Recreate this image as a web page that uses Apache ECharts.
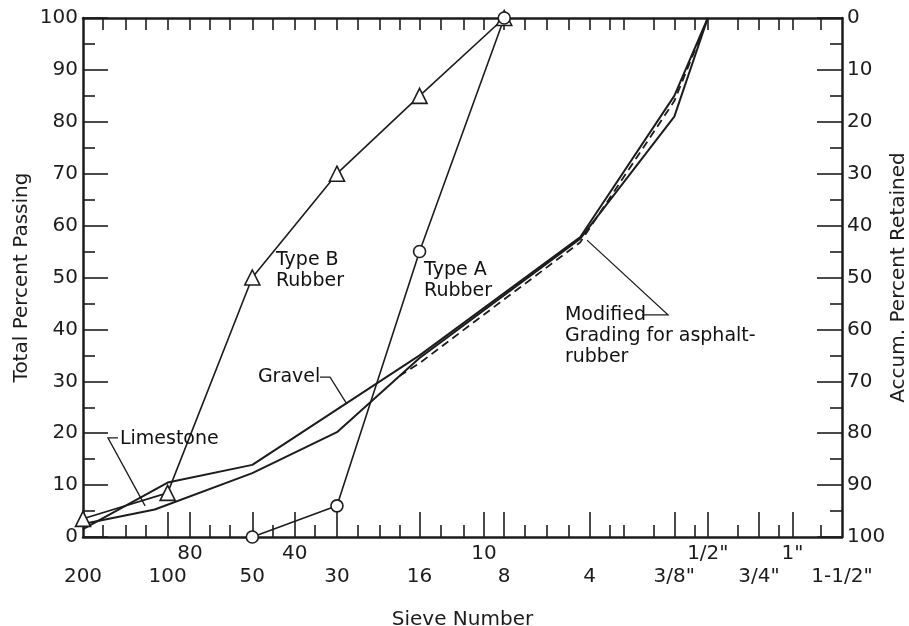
<!DOCTYPE html>
<html><head><meta charset="utf-8">
<script src="https://cdn.jsdelivr.net/npm/echarts@6/dist/echarts.min.js"></script>
<style>html,body{margin:0;padding:0;background:#fff}#c{width:909px;height:626px}</style>
</head><body><div id="c"></div>
<script>
// ---- axis data (sieve openings in mm) ----
const sieveUpperSizes = [0.18, 0.425, 2.0, 12.5, 25];
const sieveUpperLabels = ['80', '40', '10', '1/2"', '1"'];
const sieveLowerSizes = [0.075, 0.15, 0.3, 0.6, 1.18, 2.36, 4.75, 9.5, 19, 37.5];
const sieveLowerLabels = ['200', '100', '50', '30', '16', '8', '4', '3/8"', '3/4"', '1-1/2"'];
const longTickSizes = [0.15, 0.18, 0.3, 0.425, 0.6, 1.18, 2.0, 2.36, 4.75, 9.5, 12.5, 19, 25];
const shortTickSizes = [0.088, 0.106, 0.125, 0.212, 0.25, 0.355, 0.5, 0.71, 0.85, 1.0, 1.4, 1.7, 2.8, 3.35, 4.0, 5.6, 6.3, 8.0, 11.2, 16, 22.4, 31.5];
const xMinSize = 0.075, xMaxSize = 37.5;

// ---- series data ----
const gravelSize = [0.075, 0.15, 0.3, 1.18, 4.4, 9.5, 12.5];
const gravelPass = [1.5, 10.5, 13.9, 35, 57.8, 85, 100];
const limestoneSize = [0.075, 0.135, 0.3, 0.6, 1.18, 4.4, 9.5, 12.5];
const limestonePass = [2.5, 5.3, 12.3, 20.2, 34.5, 57.5, 81, 100];
const modifiedSize = [1.0, 1.18, 2.36, 4.4, 9.5, 12.5];
const modifiedPass = [31.0, 33.5, 45.8, 56.8, 84, 100];
const typeBSize = [0.075, 0.15, 0.3, 0.6, 1.18, 2.36];
const typeBPass = [3.5, 8.5, 50, 70, 85, 100];
const typeASize = [0.3, 0.6, 1.18, 2.36];
const typeAPass = [0, 6, 55, 100];

// ---- annotations (in data coordinates: mm, % passing) ----
const noteTexts = ['Type B\nRubber', 'Type A\nRubber', 'Gravel', 'Limestone', 'Modified\nGrading for asphalt-\nrubber'];
const noteSize = [0.364, 1.224, 0.314, 0.1015, 3.88];
const notePass = [55.3, 53.4, 32.8, 20.8, 44.7];
const leaderGravel = [[0.522, 30.8], [0.567, 30.8], [0.651, 25.6]];
const leaderLimestone = [[0.0999, 19.1], [0.092, 19.1], [0.1247, 6.0]];
const leaderModified = [[7.29, 42.8], [9.02, 42.8], [4.65, 57.2]];

const lg = v => Math.log10(v);
const pts = (xs, ys) => xs.map((x, i) => [lg(x), ys[i]]);
const lgPts = arr => arr.map(p => [lg(p[0]), p[1]]);
const FONT = 'DejaVu Sans';
const INK = '#1c1c1c';
function labelFor(sizes, labels) {
  return v => {
    let best = 0, bd = Infinity;
    sizes.forEach((s, i) => { const d = Math.abs(lg(s) - v); if (d < bd) { bd = d; best = i; } });
    return labels[best];
  };
}
const xBase = {
  type: 'value', min: lg(xMinSize), max: lg(xMaxSize),
  splitLine: { show: false }, gridIndex: 0
};

const chart = echarts.init(document.getElementById('c'), null, { renderer: 'canvas' });
chart.setOption({
  backgroundColor: '#fff',
  animation: false,
  grid: { left: 83, right: 67, top: 18, bottom: 89, containLabel: false, outerBoundsMode: 'none' },
  xAxis: [
    Object.assign({}, xBase, {
      position: 'bottom',
      name: 'Sieve Number', nameLocation: 'middle', nameGap: 73, nameMoveOverlap: false,
      nameTextStyle: { fontFamily: FONT, fontSize: 20, color: INK },
      axisLine: { show: true, onZero: false, lineStyle: { color: INK, width: 2.5 } },
      axisTick: { show: true, inside: true, length: 25, customValues: longTickSizes.map(lg), lineStyle: { color: INK, width: 1.6 } },
      axisLabel: { show: true, margin: 7, customValues: sieveUpperSizes.map(lg), formatter: labelFor(sieveUpperSizes, sieveUpperLabels), fontFamily: FONT, fontSize: 20, color: INK }
    }),
    Object.assign({}, xBase, {
      position: 'bottom',
      axisLine: { show: false, onZero: false },
      axisTick: { show: true, inside: true, length: 12, customValues: shortTickSizes.map(lg), lineStyle: { color: INK, width: 1.6 } },
      axisLabel: { show: true, margin: 30, customValues: sieveLowerSizes.map(lg), formatter: labelFor(sieveLowerSizes, sieveLowerLabels), fontFamily: FONT, fontSize: 20, color: INK }
    }),
    Object.assign({}, xBase, {
      position: 'top',
      axisLine: { show: true, onZero: false, lineStyle: { color: INK, width: 2.5 } },
      axisTick: { show: true, inside: true, length: 12, customValues: longTickSizes.concat(shortTickSizes).map(lg), lineStyle: { color: INK, width: 1.6 } },
      axisLabel: { show: false }
    })
  ],
  yAxis: [
    {
      type: 'value', position: 'left', min: 0, max: 100, interval: 10,
      name: 'Total Percent Passing', nameLocation: 'middle', nameGap: 51, nameRotate: 90, nameMoveOverlap: false,
      nameTextStyle: { fontFamily: FONT, fontSize: 20, color: INK },
      splitLine: { show: false },
      axisLine: { show: true, onZero: false, lineStyle: { color: INK, width: 2.5 } },
      axisTick: { show: true, inside: true, length: 25, lineStyle: { color: INK, width: 1.6 } },
      minorTick: { show: true, splitNumber: 2, length: 12, lineStyle: { color: INK, width: 1.6 } },
      axisLabel: { margin: 5, fontFamily: FONT, fontSize: 20, color: INK }
    },
    {
      type: 'value', position: 'right', min: 0, max: 100, interval: 10, inverse: true,
      name: 'Accum. Percent Retained', nameLocation: 'middle', nameGap: 47, nameRotate: 90, nameMoveOverlap: false,
      nameTextStyle: { fontFamily: FONT, fontSize: 20, color: INK },
      splitLine: { show: false },
      axisLine: { show: true, onZero: false, lineStyle: { color: INK, width: 2.5 } },
      axisTick: { show: true, inside: true, length: 25, lineStyle: { color: INK, width: 1.6 } },
      minorTick: { show: true, splitNumber: 2, length: 12, lineStyle: { color: INK, width: 1.6 } },
      axisLabel: { margin: 5, fontFamily: FONT, fontSize: 20, color: INK }
    }
  ],
  series: [
    { name: 'Gravel', type: 'line', data: pts(gravelSize, gravelPass), showSymbol: false, lineStyle: { color: INK, width: 2 }, z: 3 },
    { name: 'Limestone', type: 'line', data: pts(limestoneSize, limestonePass), showSymbol: false, lineStyle: { color: INK, width: 2 }, z: 3 },
    { name: 'Modified Grading for asphalt-rubber', type: 'line', data: pts(modifiedSize, modifiedPass), showSymbol: false, lineStyle: { color: INK, width: 1.8, type: [8, 5] }, z: 3 },
    { name: 'Type B Rubber', type: 'line', data: pts(typeBSize, typeBPass), symbol: 'triangle', symbolSize: 15, showSymbol: true,
      lineStyle: { color: INK, width: 1.6 }, itemStyle: { color: '#fff', borderColor: INK, borderWidth: 1.6 }, z: 4 },
    { name: 'Type A Rubber', type: 'line', data: pts(typeASize, typeAPass), symbol: 'circle', symbolSize: 12, showSymbol: true,
      lineStyle: { color: INK, width: 1.6 }, itemStyle: { color: '#fff', borderColor: INK, borderWidth: 1.6 }, z: 4 },
    { name: 'leaders', type: 'lines', coordinateSystem: 'cartesian2d', polyline: true,
      symbol: ['none', 'arrow'], symbolSize: 7,
      lineStyle: { color: INK, width: 1.3, opacity: 1 },
      data: [{ coords: lgPts(leaderGravel) }, { coords: lgPts(leaderLimestone) }, { coords: lgPts(leaderModified) }], z: 5 },
    { name: 'notes', type: 'scatter', symbolSize: 0, silent: true, itemStyle: { opacity: 1 },
      data: noteTexts.map((t, i) => ({ value: [lg(noteSize[i]), notePass[i]], name: t })),
      label: { show: true, position: [0, 0], align: 'left', verticalAlign: 'top', formatter: p => p.name,
        fontFamily: FONT, fontSize: 19, lineHeight: 21, color: '#111', opacity: 1, textBorderWidth: 0 }, z: 6 }
  ]
});
</script></body></html>
